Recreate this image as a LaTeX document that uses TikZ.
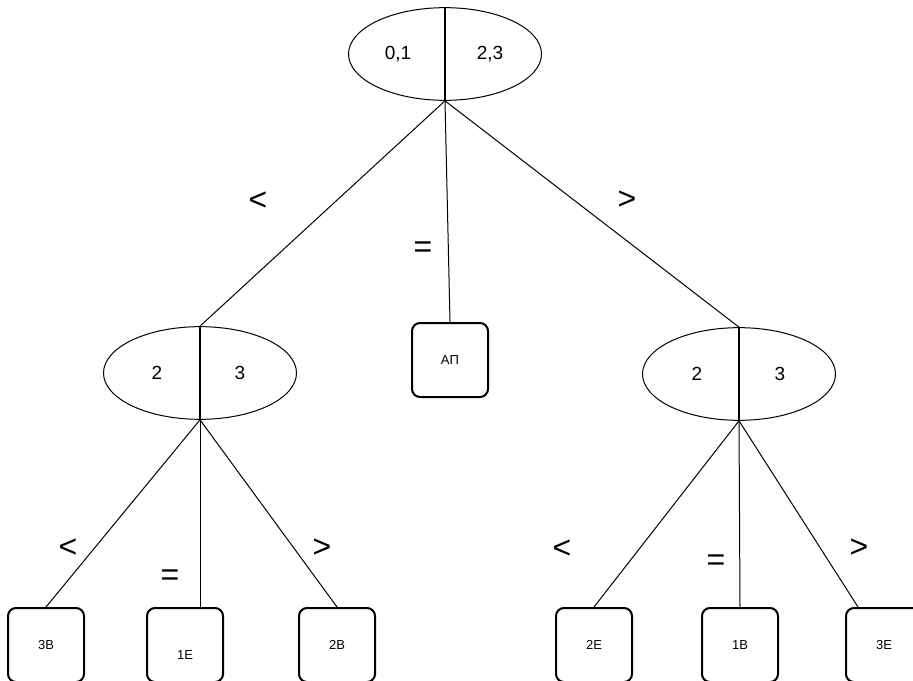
\documentclass[tikz,border=0pt]{standalone}
\usepackage{fontspec}
\setmainfont{Liberation Sans}
\usetikzlibrary{shapes,positioning,calc}

\begin{document}
\begin{tikzpicture}[
x=0.75pt, y=-0.75pt,
weigh/.style={draw, ellipse, line width=0.75pt, inner sep=0pt,
  minimum width=144.75pt, minimum height=69.5pt},
outcome/.style={draw, rounded corners=6pt, line width=1.5pt,
  minimum width=57pt, minimum height=55.5pt,
  font=\fontsize{9.75}{11}\selectfont},
pan/.style={font=\fontsize{14.25}{17}\selectfont},
sign/.style={font=\fontsize{24}{26}\selectfont},
split/.style={line width=1.5pt},
branch/.style={line width=0.75pt}
]
\useasboundingbox (0,0) rectangle (913,681);
\clip (0,0) rectangle (913,681);

% -------- First weighing --------
\node[weigh] (top) at (445,54) {};
\draw[split] (top.north) -- (top.south);
\node[pan] (top l) at (398,54) {0,1};
\node[pan] (top r) at (490,54) {2,3};

% -------- Second weighings --------
\node[weigh] (lhs) at (200,373) {};
\draw[split] (lhs.north) -- (lhs.south);
\node[pan] (lhs l) at (157,373) {2};
\node[pan] (lhs r) at (240,373) {3};

\node[weigh] (rhs) at (739,374) {};
\draw[split] (rhs.north) -- (rhs.south);
\node[pan] (rhs l) at (697,374) {2};
\node[pan] (rhs r) at (780,374) {3};

% -------- Outcomes --------
\node[outcome] (ap) at (450,360) {ΑΠ};
\node[outcome] (b3) at (46,645) {3B};
\node[outcome] (e1) at (185,645) {\raisebox{-11pt}[0pt][0pt]{1E}};
\node[outcome] (b2) at (337,645) {2B};
\node[outcome] (e2) at (594,645) {2E};
\node[outcome] (b1) at (740,645) {1B};
\node[outcome] (e3) at (884,645) {3E};
\coordinate (e3 in) at ($(e3.north west)+(13,0)$);

% -------- Branches --------
\draw[branch] (top.south) -- (lhs.north);
\draw[branch] (top.south) -- (ap.north);
\draw[branch] (top.south) -- (rhs.north);
\draw[branch] (lhs.south) -- (b3.north);
\draw[branch] (lhs.south) -- (lhs.south |- e1.north);
\draw[branch] (lhs.south) -- (b2.north);
\draw[branch] (rhs.south) -- (e2.north);
\draw[branch] (rhs.south) -- (b1.north);
\draw[branch] (rhs.south) -- (e3 in);

% -------- Results of weighing --------
\node[sign] (s top lt) at (258,201) {<};
\node[sign] (s top eq) at (423,250) {=};
\node[sign] (s top gt) at (627,200) {>};
\node[sign] (s lhs lt) at (68,548) {<};
\node[sign] (s lhs eq) at (170,578) {=};
\node[sign] (s lhs gt) at (322,548) {>};
\node[sign] (s rhs lt) at (562,549) {<};
\node[sign] (s rhs eq) at (716,563) {=};
\node[sign] (s rhs gt) at (859,548) {>};

\end{tikzpicture}
\end{document}
